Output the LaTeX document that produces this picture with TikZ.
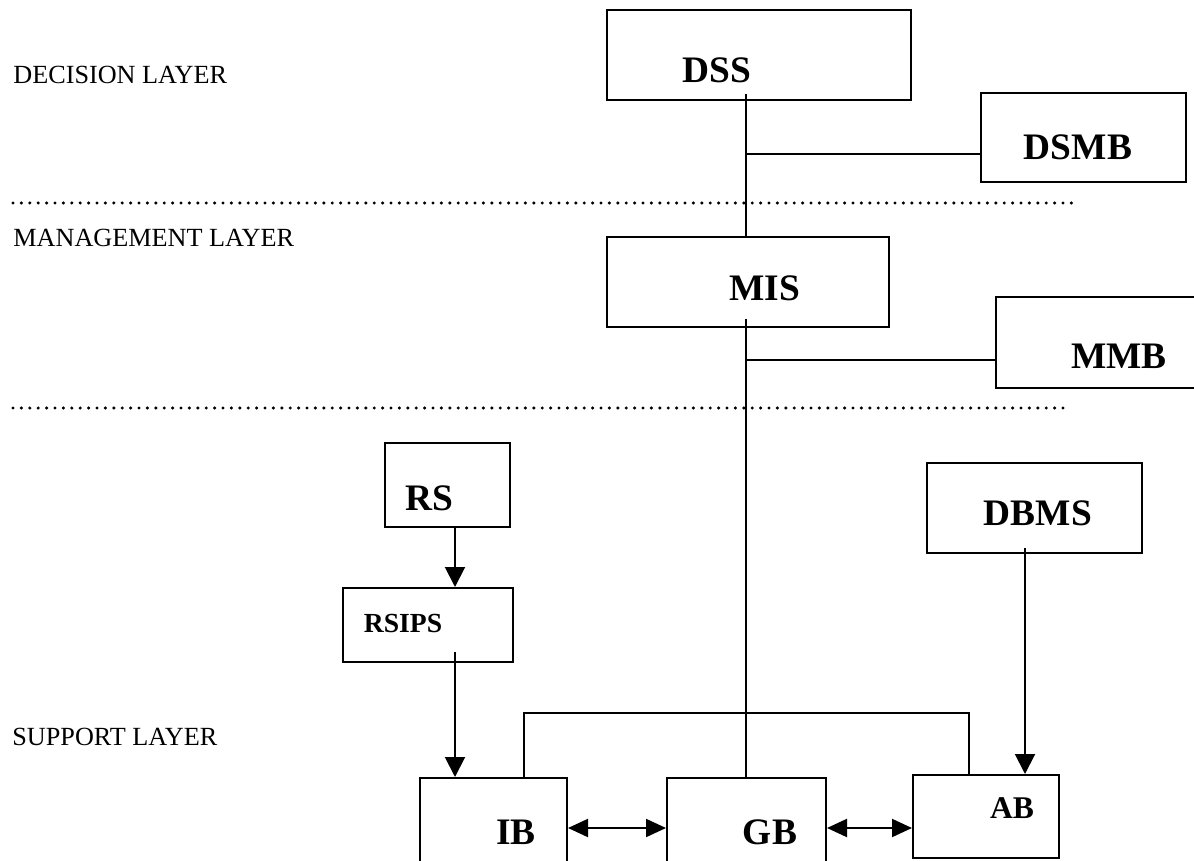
\documentclass[tikz,border=0pt]{standalone}
\usepackage{fontspec}
\setmainfont{Liberation Serif}
\usetikzlibrary{arrows.meta,calc,positioning,fit}
\tikzset{
  box/.style={draw,line width=1pt,inner sep=0pt},
  tag/.style={font=\bfseries\fontsize{18.7}{20}\selectfont,inner sep=0pt},
  smalltag/.style={font=\bfseries\fontsize{13.8}{15}\selectfont,inner sep=0pt},
  midtag/.style={font=\bfseries\fontsize{15.8}{17}\selectfont,inner sep=0pt},
  layer/.style={font=\fontsize{13.1}{15}\selectfont,anchor=west,inner sep=0pt},
  wire/.style={line width=1pt},
  arr/.style={wire,-{Triangle[length=10pt,width=10pt]}},
  biarr/.style={wire,{Triangle[length=10pt,width=9pt]}-{Triangle[length=10pt,width=9pt]}},
  sep/.style={line width=1.7pt,line cap=round,dash pattern=on 0pt off 4.2pt}
}

\begin{document}
\begin{tikzpicture}[x=0.5pt,y=-0.5pt]
  \clip (0,0) rectangle (1194,861);
  % layer names and separators
  \node[layer] (dec) at (13,75) {DECISION LAYER};
  \node[layer] (man) at (13,238) {MANAGEMENT LAYER};
  \node[layer] (sup) at (12,737) {SUPPORT LAYER};
  \draw[sep] (13,203) -- (1075,203);
  \draw[sep] (13,408) -- (1069,408);
  % boxes
  \node[box,fit={(607,10) (911,100)}] (dss) {};
  \node[box,fit={(981,93) (1186,182)}] (dsmb) {};
  \node[box,fit={(607,237) (889,327)}] (mis) {};
  \node[box,fit={(996,297) (1210,388)}] (mmb) {};
  \node[box,fit={(385,443) (510,527)}] (rs) {};
  \node[box,fit={(343,588) (513,662)}] (rsips) {};
  \node[box,fit={(927,463) (1142,553)}] (dbms) {};
  \node[box,fit={(420,778) (567,880)}] (ib) {};
  \node[box,fit={(667,778) (826,880)}] (gb) {};
  \node[box,fit={(913,775) (1059,858)}] (ab) {};
  % box texts
  \node[tag] (dsst) at (717,70) {DSS};
  \node[tag] (dsmbt) at (1078,147) {DSMB};
  \node[tag] (mist) at (765,288) {MIS};
  \node[tag] (mmbt) at (1119,356) {MMB};
  \node[tag] (rst) at (429,498) {RS};
  \node[smalltag] (rsipst) at (403,623) {RSIPS};
  \node[tag] (dbmst) at (1038,513) {DBMS};
  \node[tag] (ibt) at (516,832) {IB};
  \node[tag] (gbt) at (770,832) {GB};
  \node[midtag] (abt) at (1012,808) {AB};
  % connectors
  \coordinate (trunk) at (746,0);
  \coordinate (rsx) at (455,0);
  \coordinate (dbx) at (1025,0);
  \coordinate (dsmbj) at (746,154);
  \coordinate (mmbj) at (746,360);
  \coordinate (bl) at (524,713);
  \coordinate (br) at (969,713);
  \coordinate (ay) at (0,828);
  \draw[wire] ([yshift=3.5pt]dss.south -| trunk) -- (mis.north -| trunk);
  \draw[wire] (dsmbj) -- (dsmbj -| dsmb.west);
  \draw[wire] ([yshift=4.5pt]mis.south -| trunk) -- (gb.north -| trunk);
  \draw[wire] (mmbj) -- (mmbj -| mmb.west);
  \draw[arr] (rs.south -| rsx) -- (rsips.north -| rsx);
  \draw[arr] ([yshift=5.5pt]rsips.south -| rsx) -- (ib.north -| rsx);
  \draw[arr] ([yshift=3pt]dbms.south -| dbx) -- (ab.north -| dbx);
  \draw[wire] (ib.north -| bl) -- (bl) -- (br) -- (ab.north -| br);
  \draw[biarr] (ib.east |- ay) -- (gb.west |- ay);
  \draw[biarr] (gb.east |- ay) -- (ab.west |- ay);
\end{tikzpicture}
\end{document}
